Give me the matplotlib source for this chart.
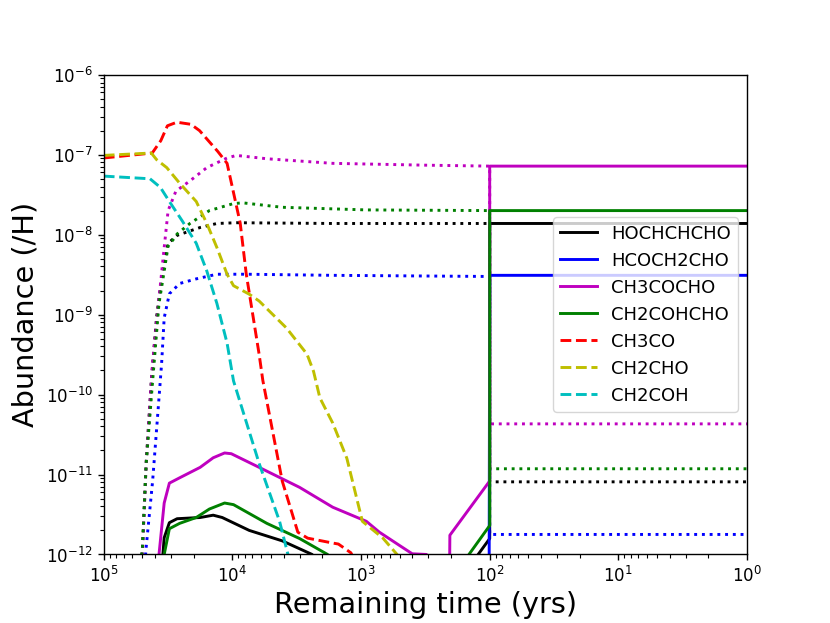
import matplotlib
matplotlib.use("Agg")
import matplotlib.pyplot as plt

# remaining time (yrs) and abundance (/H)
# --- gas phase (solid) ---
t_hochchcho = [3.55e4, 3.47e4, 3.39e4, 3.09e4, 2.69e4, 1.78e4, 1.41e4, 1.2e4, 7.4e3, 4.1e3,
               2.4e3, 2.0e3, 1.32e2, 1.23e2, 1e2, 1e2, 1]
y_hochchcho = [5e-13, 1.0e-12, 1.62e-12, 2.5e-12, 2.8e-12, 2.9e-12, 3.1e-12, 2.9e-12, 2.0e-12, 1.48e-12,
               1.0e-12, 6.3e-13, 6.3e-13, 1.0e-12, 1.58e-12, 1.38e-8, 1.38e-8]

t_hcoch2cho = [1e5, 2.0e2, 1.01e2, 1e2, 1]
y_hcoch2cho = [5e-13, 5e-13, 5e-13, 3.1e-9, 3.1e-9]

t_ch3cocho = [3.8e4, 3.72e4, 3.39e4, 3.09e4, 2.57e4, 1.78e4, 1.41e4, 1.15e4, 1.02e4, 6.2e3,
              3.0e3, 1.66e3, 9.1e2, 7.2e2, 5.0e2, 4.0e2, 3.1e2, 2.8e2, 2.05e2, 2.04e2, 1e2, 1e2, 1]
y_ch3cocho = [5e-13, 1.0e-12, 4.4e-12, 7.8e-12, 9.1e-12, 1.23e-11, 1.62e-11, 1.86e-11, 1.82e-11, 1.23e-11,
              6.9e-12, 3.9e-12, 2.6e-12, 1.9e-12, 1.29e-12, 1.02e-12, 1.0e-12, 6.3e-13, 6.3e-13, 1.74e-12,
              8.3e-12, 7.2e-8, 7.2e-8]

t_ch2cohcho = [3.47e4, 3.39e4, 3.09e4, 2.57e4, 1.91e4, 1.51e4, 1.15e4, 9.8e3, 5.4e3, 3.0e3,
               1.82e3, 1.58e3, 1.58e2, 1.45e2, 1e2, 1e2, 1]
y_ch2cohcho = [5e-13, 1.0e-12, 2.1e-12, 2.45e-12, 2.9e-12, 3.7e-12, 4.4e-12, 4.2e-12, 2.45e-12, 1.58e-12,
               1.0e-12, 6.3e-13, 6.3e-13, 1.0e-12, 2.3e-12, 2.0e-8, 2.0e-8]

# --- radicals (dashed) ---
t_ch3co = [1.0e5, 4.2e4, 3.6e4, 3.2e4, 2.7e4, 2.1e4, 1.8e4, 1.3e4, 1.1e4, 8.7e3,
           7.8e3, 6.2e3, 5.8e3, 4.1e3, 3.1e3, 2.6e3, 1.7e3, 1.5e3, 1.2e3, 1.1e3]
y_ch3co = [9.1e-8, 1.05e-7, 1.5e-7, 2.3e-7, 2.55e-7, 2.4e-7, 2.0e-7, 1.1e-7, 7.8e-8, 1.4e-8,
           3.2e-9, 3.2e-10, 1.5e-10, 8.3e-12, 1.9e-12, 1.6e-12, 1.4e-12, 1.35e-12, 1.05e-12, 8e-13]

t_ch2cho = [1e5, 4.27e4, 3.89e4, 3.24e4, 2.57e4, 1.91e4, 1.58e4, 1.32e4, 1.10e4, 9.8e3,
            7.4e3, 6.2e3, 3.8e3, 2.63e3, 2.34e3, 2.09e3, 1.66e3, 1.29e3, 9.77e2, 6.76e2,
            5.25e2, 4.9e2]
y_ch2cho = [9.8e-8, 1.05e-7, 8.7e-8, 6.9e-8, 4.4e-8, 2.6e-8, 1.38e-8, 6.9e-9, 3.2e-9, 2.3e-9,
            1.8e-9, 1.48e-9, 6.8e-10, 3.2e-10, 1.95e-10, 9.1e-11, 4.4e-11, 1.6e-11, 2.6e-12, 1.6e-12,
            1.0e-12, 8e-13]

t_ch2coh = [1e5, 4.37e4, 3.63e4, 3.09e4, 2.45e4, 1.91e4, 1.58e4, 1.32e4, 1.10e4, 9.8e3,
            6.2e3, 4.3e3, 3.7e3, 3.55e3]
y_ch2coh = [5.4e-8, 5.0e-8, 3.9e-8, 2.6e-8, 1.48e-8, 7.8e-9, 3.5e-9, 1.38e-9, 4.4e-10, 1.48e-10,
            1.38e-11, 2.6e-12, 1.0e-12, 6.3e-13]

# --- ices (dotted, not in legend) ---
t_hochchcho_ice = [5.25e4, 5.0e4, 4.68e4, 4.27e4, 3.89e4, 3.55e4, 3.24e4, 3.16e4, 2.69e4, 1.78e4,
                   1.32e4, 9.3e3, 1.66e3, 1e2, 1e2, 1]
y_hochchcho_ice = [5e-13, 1.23e-12, 1.38e-11, 1.48e-10, 9.1e-10, 2.9e-9, 6.3e-9, 7.8e-9, 9.8e-9, 1.23e-8,
                   1.38e-8, 1.41e-8, 1.38e-8, 1.38e-8, 8.1e-12, 8.1e-12]

t_hcoch2cho_ice = [4.9e4, 4.68e4, 4.17e4, 3.8e4, 3.55e4, 3.39e4, 3.09e4, 2.57e4, 1.91e4, 1.32e4,
                   7.8e3, 1.66e3, 1e2, 1e2, 1]
y_hcoch2cho_ice = [5e-13, 1.23e-12, 8.3e-12, 5.8e-11, 2.45e-10, 9.1e-10, 1.82e-9, 2.45e-9, 2.8e-9, 3.2e-9,
                   3.2e-9, 3.1e-9, 3.0e-9, 1.78e-12, 1.78e-12]

t_ch3cocho_ice = [5.25e4, 5.0e4, 4.68e4, 4.17e4, 3.72e4, 3.39e4, 3.16e4, 2.75e4, 2.14e4, 1.58e4,
                  1.10e4, 9.3e3, 5.4e3, 1.66e3, 3.2e2, 1e2, 1e2, 1]
y_ch3cocho_ice = [5e-13, 1.0e-12, 1.38e-11, 2.5e-10, 1.6e-9, 6.9e-9, 2.0e-8, 3.5e-8, 4.7e-8, 6.9e-8,
                  9.1e-8, 9.8e-8, 8.9e-8, 7.8e-8, 7.4e-8, 7.2e-8, 4.3e-11, 4.3e-11]

t_ch2cohcho_ice = [5.25e4, 5.0e4, 4.68e4, 4.17e4, 3.72e4, 3.39e4, 3.16e4, 2.82e4, 2.69e4, 2.14e4,
                   1.51e4, 9.8e3, 8.3e3, 4.1e3, 9.1e2, 1e2, 1e2, 1]
y_ch2cohcho_ice = [5e-13, 1.23e-12, 1.38e-11, 1.48e-10, 1.38e-9, 3.5e-9, 7.2e-9, 9.1e-9, 1.02e-8, 1.38e-8,
                   2.0e-8, 2.45e-8, 2.5e-8, 2.2e-8, 2.04e-8, 2.0e-8, 1.18e-11, 1.18e-11]

lw = 2.1
fig, ax = plt.subplots(figsize=(8.3, 6.23), dpi=100)

# ices first so the solid jumps at 100 yr sit on top
ax.plot(t_hochchcho_ice, y_hochchcho_ice, ":", color="k", lw=lw)
ax.plot(t_hcoch2cho_ice, y_hcoch2cho_ice, ":", color="b", lw=lw)
ax.plot(t_ch3cocho_ice, y_ch3cocho_ice, ":", color="m", lw=lw)
ax.plot(t_ch2cohcho_ice, y_ch2cohcho_ice, ":", color="g", lw=lw)

ax.plot(t_hochchcho, y_hochchcho, "-", color="k", lw=lw, label="HOCHCHCHO")
ax.plot(t_hcoch2cho, y_hcoch2cho, "-", color="b", lw=lw, label="HCOCH2CHO")
ax.plot(t_ch3cocho, y_ch3cocho, "-", color="m", lw=lw, label="CH3COCHO")
ax.plot(t_ch2cohcho, y_ch2cohcho, "-", color="g", lw=lw, label="CH2COHCHO")
ax.plot(t_ch3co, y_ch3co, "--", color="r", lw=lw, label="CH3CO")
ax.plot(t_ch2cho, y_ch2cho, "--", color="y", lw=lw, label="CH2CHO")
ax.plot(t_ch2coh, y_ch2coh, "--", color="c", lw=lw, label="CH2COH")

ax.set_xscale("log")
ax.set_yscale("log")
ax.set_xlim(1e5, 1)
ax.set_ylim(1e-12, 1e-6)
ax.set_xlabel("Remaining time (yrs)", fontsize=20.7)
ax.set_ylabel("Abundance (/H)", fontsize=20.7)
ax.tick_params(which="major", labelsize=12, length=4.5, width=1.0)
ax.tick_params(which="minor", length=2.6, width=0.8)
for s in ax.spines.values():
    s.set_linewidth(1.0)
ax.legend(loc="center right", fontsize=13)

fig.savefig("out.png", dpi=100)
